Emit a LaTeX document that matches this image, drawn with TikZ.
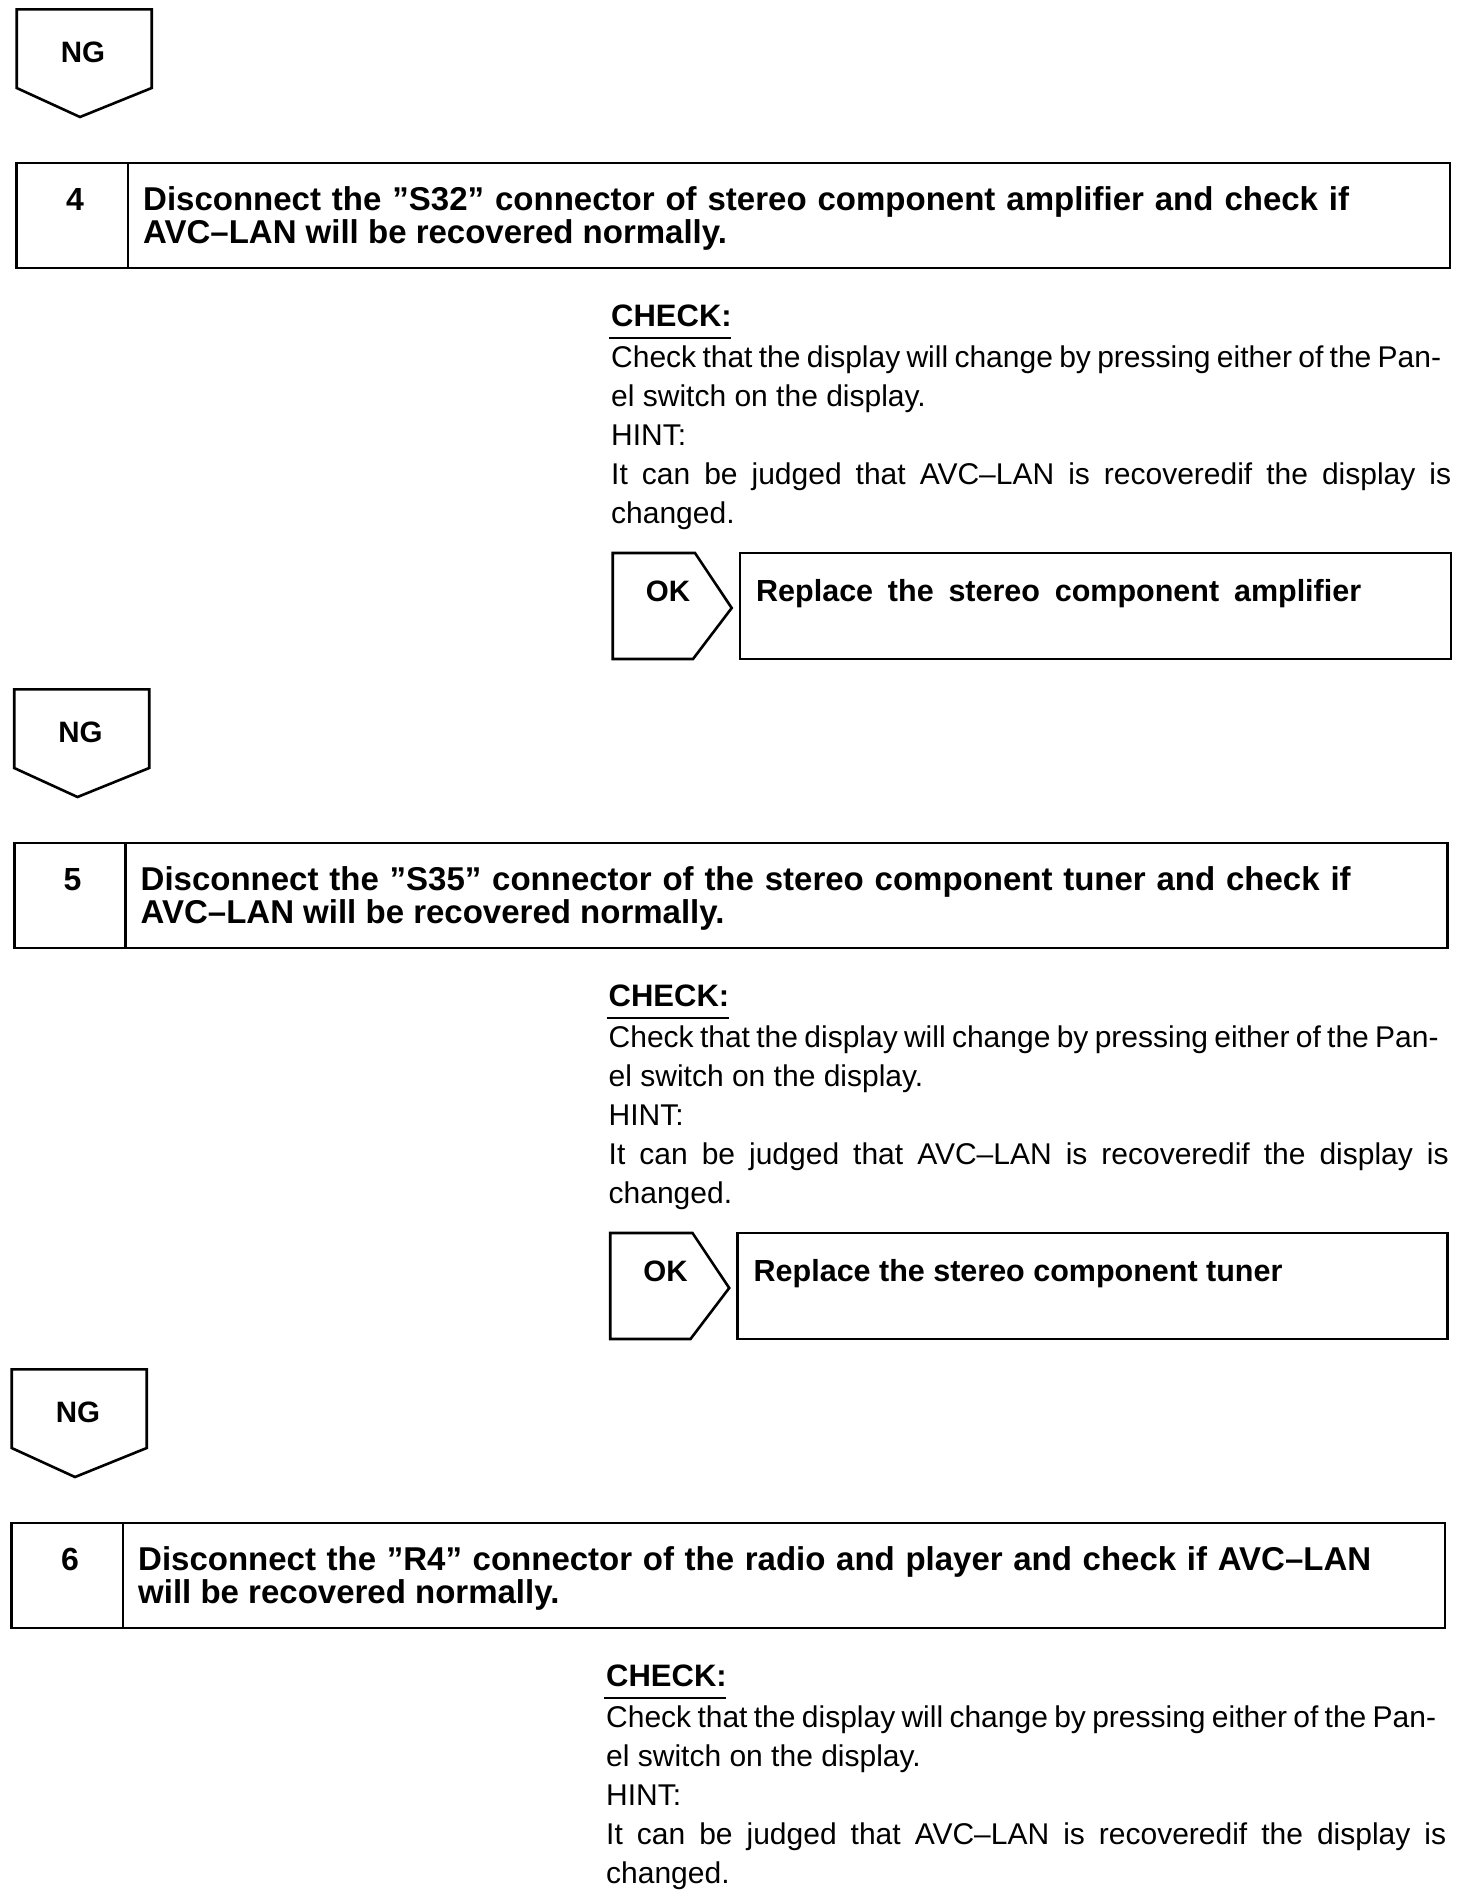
\documentclass[tikz,border=0pt]{standalone}
\usepackage{fontspec}
\setmainfont{Liberation Sans}
\begin{document}
\begin{tikzpicture}[x=1pt,y=-1pt]
\tikzset{
  frame/.style={draw=black, line width=2.6pt, line join=miter},
  ttl/.style={font=\fontsize{33}{34}\selectfont\bfseries, anchor=base west, inner sep=0pt},
  stepnum/.style={font=\fontsize{32}{34}\selectfont\bfseries, anchor=base, inner sep=0pt},
  rpl/.style={font=\fontsize{30.5}{34}\selectfont\bfseries, anchor=base west, inner sep=0pt},
  num/.style={font=\fontsize{29.5}{34}\selectfont\bfseries, anchor=base, inner sep=0pt},
  body/.style={font=\fontsize{30}{36}\selectfont, anchor=base west, inner sep=0pt},
  chk/.style={font=\fontsize{31}{34}\selectfont\bfseries, anchor=base west, inner sep=0pt},
  urule/.style={line width=1.6pt},
}
\fill[white] (0,0) rectangle (1472,1904);
\useasboundingbox (0,0) rectangle (1472,1904);

% ---------------- Section 1 ----------------
\draw[frame] (16.7,9.3) -- (151.7,9.3) -- (151.7,88) -- (80,117) -- (16.7,88) -- cycle;
\node[num] (ng1) at (83,62) {NG};

\draw[frame] (16.7,163) rectangle (1450,268);
\draw[frame] (128,163) -- (128,268);
\node[stepnum] (n4) at (75,210) {4};
\node[ttl] (t4a) at (143,210) {\makebox[1206pt][s]{Disconnect the ”S32” connector of stereo component amplifier and check if}};
\node[ttl] (t4b) at (143,243) {AVC–LAN will be recovered normally.};

\node[chk] (c1) at (611,326) {CHECK:};
\draw[urule] (609,338) -- (731,338);
\node[body] (c1a) at (611,367) {\makebox[830pt][s]{Check that the display will change by pressing either of the Pan-}};
\node[body] (c1b) at (611,406) {el switch on the display.};
\node[body] (c1c) at (611,445) {HINT:};
\node[body] (c1d) at (611,484) {\makebox[840pt][s]{It can be judged that AVC–LAN is recoveredif the display is}};
\node[body] (c1e) at (611,523) {changed.};

\draw[frame] (612.7,553) -- (695,553) -- (731.7,608) -- (693,659) -- (612.7,659) -- cycle;
\node[num] (ok1) at (668,601) {OK};
\draw[frame] (740,553) rectangle (1451,659);
\node[rpl] (r1) at (756,601) {\makebox[605pt][s]{Replace the stereo component amplifier}};

% ---------------- Section 2 ----------------
\begin{scope}[shift={(-2.5,680)}]
\draw[frame] (16.7,9.3) -- (151.7,9.3) -- (151.7,88) -- (80,117) -- (16.7,88) -- cycle;
\node[num] (ng2) at (83,62) {NG};

\draw[frame] (16.7,163) rectangle (1450,268);
\draw[frame] (128,163) -- (128,268);
\node[stepnum] (n5) at (75,210) {5};
\node[ttl] (t5a) at (143,210) {\makebox[1210pt][s]{Disconnect the ”S35” connector of the stereo component tuner and check if}};
\node[ttl] (t5b) at (143,243) {AVC–LAN will be recovered normally.};

\node[chk] (c2) at (611,326) {CHECK:};
\draw[urule] (609,338) -- (731,338);
\node[body] (c2a) at (611,367) {\makebox[830pt][s]{Check that the display will change by pressing either of the Pan-}};
\node[body] (c2b) at (611,406) {el switch on the display.};
\node[body] (c2c) at (611,445) {HINT:};
\node[body] (c2d) at (611,484) {\makebox[840pt][s]{It can be judged that AVC–LAN is recoveredif the display is}};
\node[body] (c2e) at (611,523) {changed.};

\draw[frame] (612.7,553) -- (695,553) -- (731.7,608) -- (693,659) -- (612.7,659) -- cycle;
\node[num] (ok2) at (668,601) {OK};
\draw[frame] (740,553) rectangle (1450,659);
\node[rpl] (r2) at (756,601) {Replace the stereo component tuner};
\end{scope}

% ---------------- Section 3 ----------------
\begin{scope}[shift={(-5,1360)}]
\draw[frame] (16.7,9.3) -- (151.7,9.3) -- (151.7,88) -- (80,117) -- (16.7,88) -- cycle;
\node[num] (ng3) at (83,62) {NG};

\draw[frame] (16.7,163) rectangle (1450,268);
\draw[frame] (128,163) -- (128,268);
\node[stepnum] (n6) at (75,210) {6};
\node[ttl] (t6a) at (143,210) {\makebox[1233pt][s]{Disconnect the ”R4” connector of the radio and player and check if AVC–LAN}};
\node[ttl] (t6b) at (143,243) {will be recovered normally.};

\node[chk] (c3) at (611,326) {CHECK:};
\draw[urule] (609,338) -- (731,338);
\node[body] (c3a) at (611,367) {\makebox[830pt][s]{Check that the display will change by pressing either of the Pan-}};
\node[body] (c3b) at (611,406) {el switch on the display.};
\node[body] (c3c) at (611,445) {HINT:};
\node[body] (c3d) at (611,484) {\makebox[840pt][s]{It can be judged that AVC–LAN is recoveredif the display is}};
\node[body] (c3e) at (611,523) {changed.};
\end{scope}
\end{tikzpicture}
\end{document}
